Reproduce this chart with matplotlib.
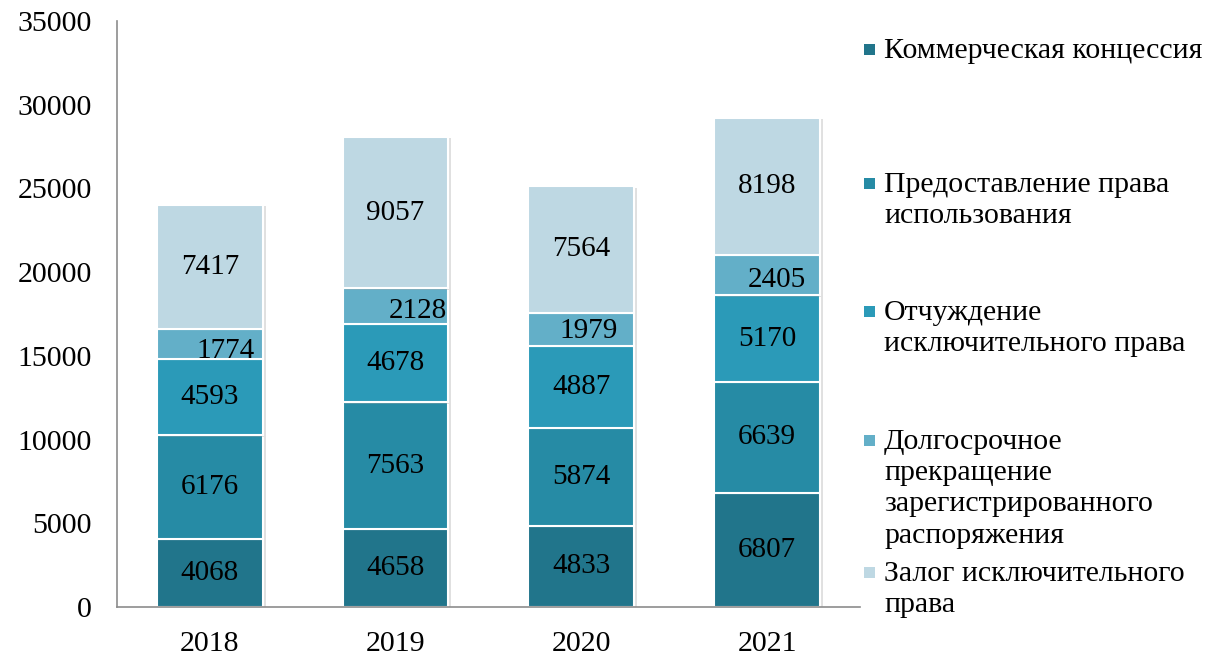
import matplotlib.pyplot as plt
import matplotlib.patheffects as pe
from matplotlib.patches import Rectangle
import numpy as np

plt.rcParams['font.family'] = ['Liberation Serif', 'DejaVu Serif']

# data
years = ['2018', '2019', '2020', '2021']
series_names = ['Коммерческая концессия',
                'Предоставление права\nиспользования',
                'Отчуждение\nисключительного права',
                'Долгосрочное\nпрекращение\nзарегистрированного\nраспоряжения',
                'Залог исключительного\nправа']
kommerch = [4068, 4658, 4833, 6807]
predost = [6176, 7563, 5874, 6639]
otchuzh = [4593, 4678, 4887, 5170]
dolgosr = [1774, 2128, 1979, 2405]
zalog = [7417, 9057, 7564, 8198]
values = [kommerch, predost, otchuzh, dolgosr, zalog]
colors = ['#21758b', '#268ba5', '#2b9ab8', '#63afc8', '#bed8e3']

fig = plt.figure(figsize=(12.06, 6.59), dpi=100)
ax = fig.add_axes([0.097, 0.079, 0.616, 0.889])

x = np.arange(len(years))
bottom = np.zeros(len(years))
shadow = [pe.SimplePatchShadow(offset=(2, -1), shadow_rgbFace='#999999', alpha=0.3), pe.Normal()]
for i, vals in enumerate(values):
    # each series covers the labels of the one below, as in the original
    bars = ax.bar(x, vals, 0.57, bottom=bottom, color=colors[i], edgecolor='white',
                  linewidth=1.5, zorder=2 + 2 * i)
    for b in bars:
        b.set_path_effects(shadow)
    for j, v in enumerate(vals):
        yc = bottom[j] + v / 2
        dx = 0
        if i == 3:
            # small labels sit a bit off-centre like in the original
            dx = [0.086, 0.118, 0.04, 0.054][j]
            yc = yc - [420, 300, 120, 300][j]
        ax.text(x[j] + dx, yc, str(v), ha='center', va='center', fontsize=21,
                color='black', zorder=3 + 2 * i)
    bottom += np.array(vals)

ax.set_xlim(-0.5, 3.5)
ax.set_ylim(0, 35000)
ax.set_yticks(np.arange(0, 35001, 5000))
ax.set_xticks(x)
ax.set_xticklabels(years)
ax.tick_params(axis='both', length=0, labelsize=21.5)
ax.tick_params(axis='y', pad=18)
ax.tick_params(axis='x', pad=17)
for s in ['top', 'right']:
    ax.spines[s].set_visible(False)
for s in ['left', 'bottom']:
    ax.spines[s].set_color('#8c8c8c')
    ax.spines[s].set_linewidth(1.2)
    ax.spines[s].set_zorder(20)

# legend drawn by hand to keep the uneven spacing of the original
leg_tops = [50, 184, 312, 441, 573]
W, H = 1206, 659
for i, name in enumerate(series_names):
    ty = leg_tops[i]
    fig.patches.append(Rectangle((864 / W, 1 - (ty + 5) / H), 11 / W, 11 / H,
                                 transform=fig.transFigure, facecolor=colors[i], edgecolor='none'))
    fig.text(884 / W, 1 - (ty - 12) / H, name, ha='left', va='top', fontsize=21.5,
             linespacing=1.26)

fig.savefig('out.png', dpi=100)
